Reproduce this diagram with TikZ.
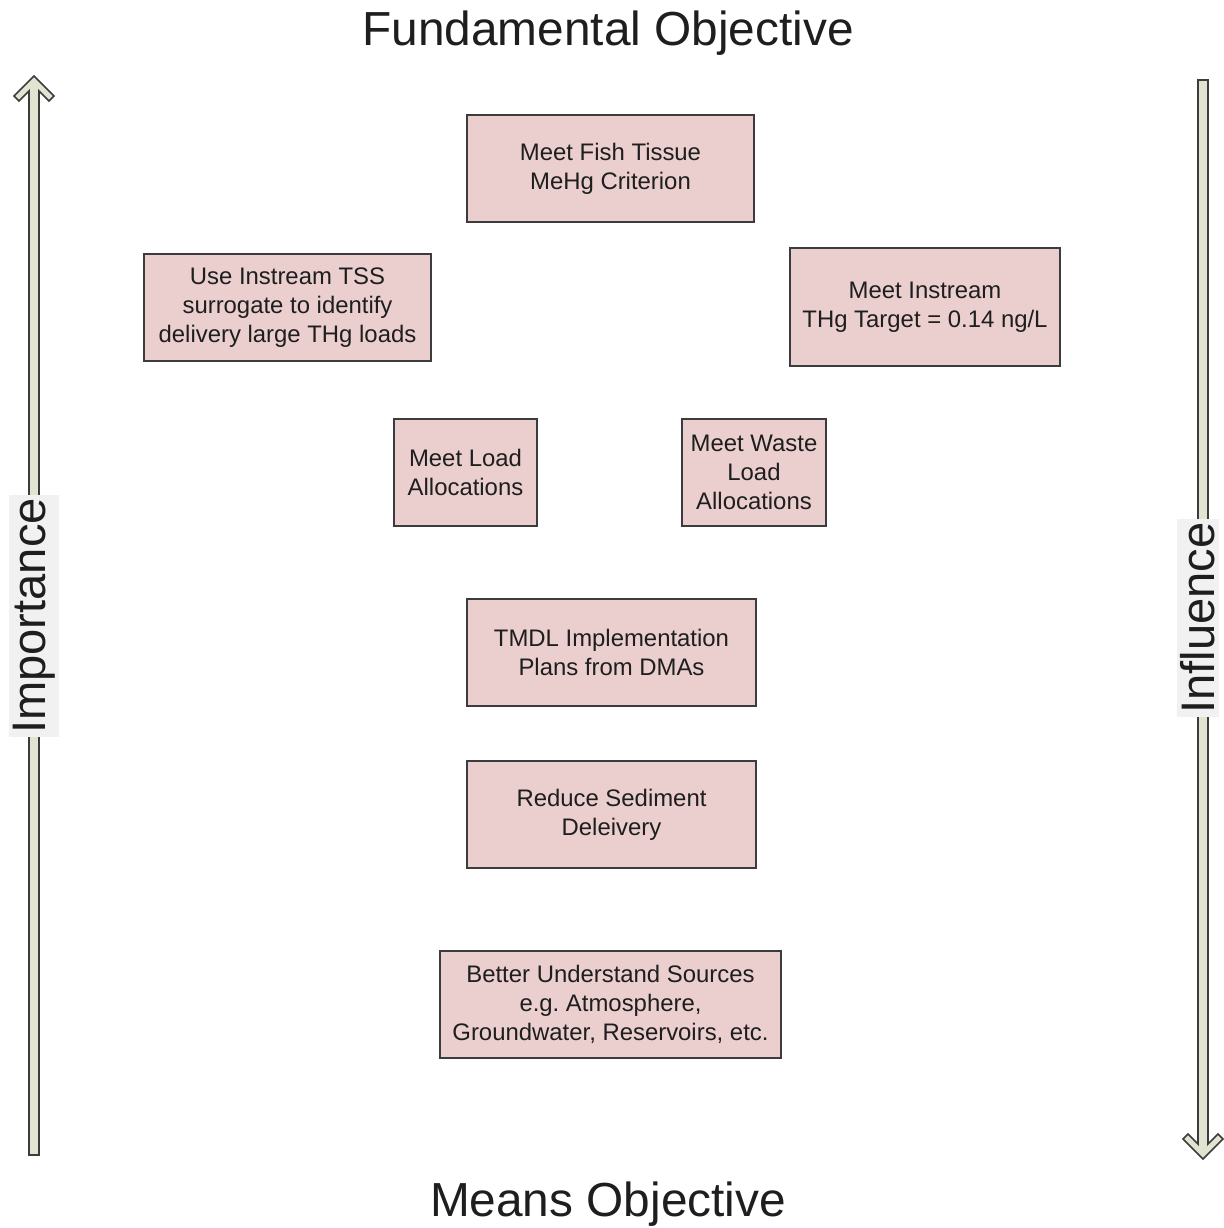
\documentclass[tikz,border=0pt]{standalone}
\usepackage{fontspec}
\setmainfont{Liberation Sans}
\usepackage{xcolor}
\usepackage{tikz}
\definecolor{boxpink}{RGB}{235,206,206}
\definecolor{arrowfill}{RGB}{226,228,210}
\definecolor{labelgray}{RGB}{241,241,241}
\definecolor{edgegray}{RGB}{60,60,60}
\definecolor{textdark}{RGB}{30,30,30}

\begin{document}
\frenchspacing
\begin{tikzpicture}[x=0.05cm,y=-0.05cm,
    goal/.style={draw=edgegray,line width=2pt,fill=boxpink,align=center,inner sep=0pt,
      text=textdark,font=\fontsize{34}{41.5}\selectfont},
    heading/.style={text=textdark,font=\fontsize{68}{80}\selectfont},
    axislabel/.style={fill=labelgray,rotate=90,inner xsep=0.15cm,inner ysep=0.2cm,
      text=textdark,font=\fontsize{67}{80}\selectfont},
    axisarrow/.style={draw=edgegray,line width=2.4pt,fill=arrowfill,line join=miter}]
  \useasboundingbox (0,0) rectangle (1224,1228);

  \node[heading] (fundamental) at (608,33) {Fundamental Objective};
  \node[heading] (means) at (608,1204) {Means Objective};

  \filldraw[axisarrow] (29,1155) -- (29,91) -- (19,101) -- (14,96) -- (34,76) -- (54,96)
    -- (49,101) -- (39,91) -- (39,1155) -- cycle;
  \filldraw[axisarrow] (1198,80) -- (1198,1144) -- (1188,1134) -- (1183,1139) -- (1203,1159)
    -- (1223,1139) -- (1218,1134) -- (1208,1144) -- (1208,80) -- cycle;
  \node[axislabel] (importance) at (34,616) {Importance};
  \node[axislabel] (influence) at (1198,618) {Influence};

  \node[goal,minimum width=14.35cm,minimum height=5.35cm] (fish) at (610.5,168.5)
    {Meet Fish Tissue\\MeHg Criterion};
  \node[goal,minimum width=14.35cm,minimum height=5.35cm] (tss) at (287.5,307.5)
    {Use Instream TSS\\surrogate to identify\\delivery large THg loads};
  \node[goal,minimum width=13.5cm,minimum height=5.9cm] (instream) at (925,307)
    {Meet Instream\\THg Target = 0.14 ng/L};
  \node[goal,minimum width=7.15cm,minimum height=5.35cm] (load) at (465.5,472.5)
    {Meet Load\\Allocations};
  \node[goal,minimum width=7.2cm,minimum height=5.35cm] (waste) at (754,472.5)
    {Meet Waste\\Load\\Allocations};
  \node[goal,minimum width=14.45cm,minimum height=5.35cm] (tmdl) at (611.5,652.5)
    {TMDL Implementation\\Plans from DMAs};
  \node[goal,minimum width=14.45cm,minimum height=5.35cm] (sediment) at (611.5,814.5)
    {Reduce Sediment\\Deleivery};
  \node[goal,minimum width=17.05cm,minimum height=5.35cm] (sources) at (610.5,1004.5)
    {Better Understand Sources\\e.g. Atmosphere,\\Groundwater, Reservoirs, etc.};
\end{tikzpicture}
\end{document}
